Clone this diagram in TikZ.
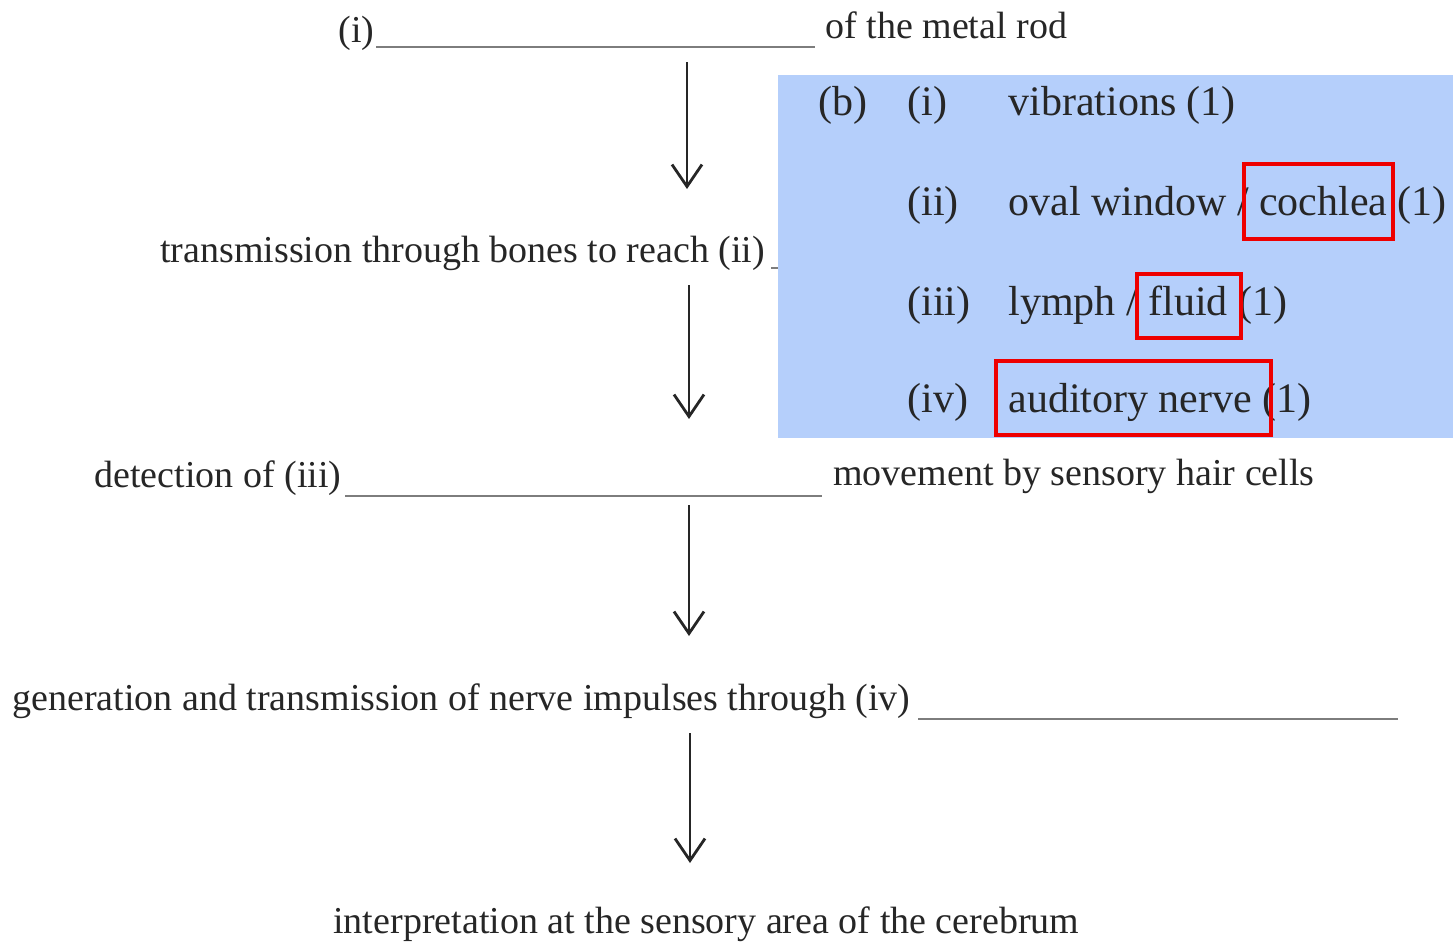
\documentclass[tikz,border=0pt]{standalone}
\usepackage{fontspec}
\setmainfont{Liberation Serif}
\usetikzlibrary{arrows.meta}
\definecolor{ink}{RGB}{38,38,38}
\definecolor{blankline}{RGB}{125,125,125}
\definecolor{keyblue}{RGB}{181,207,251}
\definecolor{markred}{RGB}{238,0,0}
\begin{document}
\begin{tikzpicture}[x=0.5pt,y=-0.5pt,
  txt/.style={inner sep=0pt,anchor=base west,text=ink,font=\fontsize{19}{22}\selectfont},
  keytxt/.style={inner sep=0pt,anchor=base west,text=ink,font=\fontsize{21}{24}\selectfont},
  blank/.style={draw=blankline,line width=1pt},
  flow/.style={draw=ink,line width=1.4pt,-{Straight Barb[length=11pt,width=15pt,line width=1.4pt]}},
  redbox/.style={draw=markred,line width=2pt}]
\useasboundingbox (0,0) rectangle (1453,943);

% flow chart text
\node[txt] (s1a) at (338,42) {(i)};
\node[txt] (s1b) at (825,38) {of the metal rod};
\node[txt] (s2) at (160,262) {transmission through bones to reach (ii)};
\node[txt] (s3a) at (94,487) {detection of (iii)};
\node[txt] (s3b) at (833,485) {movement by sensory hair cells};
\node[txt] (s4) at (12,710) {generation and transmission of nerve impulses through (iv)};
\node[txt] (s5) at (333,933) {interpretation at the sensory area of the cerebrum};

% answer blanks
\coordinate (b1s) at (376,47);  \coordinate (b1e) at (815,47);
\coordinate (b2s) at (771,268); \coordinate (b2e) at (1200,268);
\coordinate (b3s) at (345,496); \coordinate (b3e) at (822,496);
\coordinate (b4s) at (918,719); \coordinate (b4e) at (1398,719);
\draw[blank] (b1s) -- (b1e);
\draw[blank] (b2s) -- (b2e);
\draw[blank] (b3s) -- (b3e);
\draw[blank] (b4s) -- (b4e);

% arrows between the stages
\coordinate (a1s) at (687,62);  \coordinate (a1e) at (687,189);
\coordinate (a2s) at (689,285); \coordinate (a2e) at (689,419);
\coordinate (a3s) at (689,505); \coordinate (a3e) at (689,636);
\coordinate (a4s) at (690,733); \coordinate (a4e) at (690,863);
\draw[flow] (a1s) -- (a1e);
\draw[flow] (a2s) -- (a2e);
\draw[flow] (a3s) -- (a3e);
\draw[flow] (a4s) -- (a4e);

% answer key panel (covers the rest of blank (ii))
\fill[keyblue] (778,75) rectangle (1453,438);
\node[keytxt] (kb) at (818,115) {(b)};
\node[keytxt] (k1n) at (907,115) {(i)};
\node[keytxt] (k1) at (1008,115) {vibrations (1)};
\node[keytxt] (k2n) at (907,215) {(ii)};
\node[keytxt] (k2) at (1008,215) {oval window / cochlea (1)};
\node[keytxt] (k3n) at (907,315) {(iii)};
\node[keytxt] (k3) at (1008,315) {lymph / fluid (1)};
\node[keytxt] (k4n) at (907,412) {(iv)};
\node[keytxt] (k4) at (1008,412) {auditory nerve (1)};

% highlighted answers
\draw[redbox] (1244,164) rectangle (1393,239);
\draw[redbox] (1137,274) rectangle (1241,338);
\draw[redbox] (996,361) rectangle (1271,435);
\end{tikzpicture}
\end{document}
